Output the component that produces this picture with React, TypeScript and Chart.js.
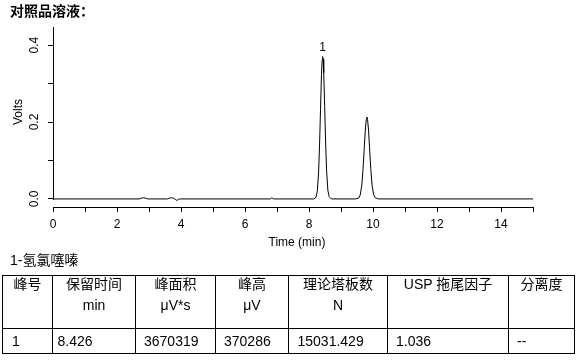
import React, { useEffect, useRef } from 'react';
import { Chart, registerables } from 'chart.js';

Chart.register(...registerables);

// ---------- data ----------
const titleText = '对照品溶液：';
const compoundCaption = '1-氢氯噻嗪';

const times = [
  0, 2.70, 2.76, 2.82, 2.90, 2.96, 3.58, 3.64, 3.70, 3.76, 3.82, 3.87, 3.92, 3.98,
  6.79, 6.84, 6.89,
  8.15, 8.22, 8.26, 8.30, 8.33, 8.36, 8.39, 8.41, 8.426, 8.44, 8.46, 8.49, 8.52, 8.55, 8.59, 8.63, 8.70,
  9.45, 9.55, 9.60, 9.65, 9.69, 9.73, 9.76, 9.79, 9.81, 9.83, 9.86, 9.89, 9.93, 9.97, 10.02, 10.07, 10.17,
  15,
];
const volts = [
  0, 0, 0.002, 0.003, 0.002, 0, 0, 0.002, 0.003, 0.002, -0.001, -0.004, -0.001, 0,
  0, 0.003, 0,
  0, 0.004, 0.020, 0.070, 0.140, 0.233, 0.323, 0.360, 0.370, 0.363, 0.328, 0.240, 0.146, 0.073, 0.022, 0.006, 0,
  0, 0.002, 0.010, 0.036, 0.079, 0.137, 0.179, 0.207, 0.213, 0.207, 0.179, 0.137, 0.079, 0.036, 0.011, 0.003, 0,
  0,
];

const peakLabelTimes = [8.426];
const peakLabelVolts = [0.370];
const peakLabelTexts = ['1'];

const xTickValues = [0, 2, 4, 6, 8, 10, 12, 14];
const yTickValues = [0, 0.2, 0.4];
const yTickLabels = ['0.0', '0.2', '0.4'];
const xTitle = 'Time (min)';
const yTitle = 'Volts';

const tableHeaders = ['峰号', '保留时间', '峰面积', '峰高', '理论塔板数', 'USP 拖尾因子', '分离度'];
const tableUnits = ['', 'min', 'μV*s', 'μV', 'N', '', ''];
const tableRow = ['1', '8.426', '3670319', '370286', '15031.429', '1.036', '--'];

// ---------- layout ----------
const FONT = '"Liberation Sans", Arial, "Noto Sans CJK SC", sans-serif';
const colEdges = [2, 52, 135, 215, 288, 387, 508, 574];
const rowEdges = [275, 328, 353];
const cellPad = [9, 4.5, 8, 8, 8.5, 8, 8];

const overlay = {
  id: 'overlay',
  afterDraw(chart: any) {
    const ctx = chart.ctx;
    const xs = chart.scales.x;
    const ys = chart.scales.y;
    const area = chart.chartArea;
    ctx.save();
    ctx.strokeStyle = '#000';
    ctx.lineWidth = 1;
    ctx.beginPath();
    const ax = Math.round(area.left) + 0.5;
    ctx.moveTo(ax, area.top);
    ctx.lineTo(ax, Math.round(ys.getPixelForValue(0)) + 1);
    ctx.stroke();

    ctx.fillStyle = '#000';
    ctx.font = '12px ' + FONT;
    ctx.textAlign = 'center';
    ctx.textBaseline = 'middle';
    yTickValues.forEach((v, i) => {
      const py = ys.getPixelForValue(v);
      ctx.save();
      ctx.translate(34.5, py);
      ctx.rotate(-Math.PI / 2);
      ctx.fillText(yTickLabels[i], 0, 0);
      ctx.restore();
    });
    ctx.save();
    ctx.translate(18.5, (area.top + area.bottom) / 2 - 5);
    ctx.rotate(-Math.PI / 2);
    ctx.fillText(yTitle, 0, 0);
    ctx.restore();

    ctx.textBaseline = 'alphabetic';
    ctx.fillText(xTitle, (area.left + area.right) / 2 + 4, 246);

    peakLabelTexts.forEach((t, i) => {
      ctx.fillText(t, xs.getPixelForValue(peakLabelTimes[i]), ys.getPixelForValue(peakLabelVolts[i]) - 6);
    });
    ctx.restore();
  },
};

export default function App() {
  const ref = useRef<HTMLCanvasElement>(null);

  useEffect(() => {
    document.body.style.margin = '0';
    const canvas = ref.current;
    if (!canvas) return;
    const chart = new Chart(canvas, {
      type: 'line',
      data: {
        datasets: [
          {
            data: times.map((t, i) => ({ x: t, y: volts[i] })),
            borderColor: '#000',
            borderWidth: 1,
            pointRadius: 0,
            tension: 0,
            fill: false,
          },
        ],
      },
      options: {
        responsive: false,
        animation: false,
        layout: { autoPadding: false, padding: { top: 27, right: 49, left: 0, bottom: 0 } },
        plugins: { legend: { display: false }, tooltip: { enabled: false } },
        scales: {
          x: {
            type: 'linear',
            min: 0,
            max: 15,
            afterFit: (s: any) => { s.height = 48; },
            border: { display: true, color: '#000', width: 1 },
            grid: { drawOnChartArea: false, drawTicks: true, tickLength: 5, color: '#000' },
            ticks: {
              stepSize: 1,
              autoSkip: false,
              maxRotation: 0,
              padding: 5,
              color: '#000',
              font: { family: FONT, size: 12 },
              callback: (v: any) => (xTickValues.includes(Number(v)) ? String(v) : ''),
            },
          },
          y: {
            type: 'linear',
            min: -0.021,
            max: 0.447,
            afterFit: (s: any) => { s.width = 53; },
            border: { display: false },
            grid: { drawOnChartArea: false, drawTicks: true, tickLength: 5, color: '#000' },
            ticks: {
              stepSize: 0.1,
              includeBounds: false,
              autoSkip: false,
              color: 'rgba(0,0,0,0)',
              font: { family: FONT, size: 12 },
              callback: () => '',
            },
          },
        },
      },
      plugins: [overlay],
    });
    return () => chart.destroy();
  }, []);

  const lineStyle = (l: number, t: number, w: number, h: number): React.CSSProperties => ({
    position: 'absolute', left: l, top: t, width: w, height: h, background: '#000',
  });

  return (
    <div style={{ position: 'relative', width: 582, height: 360, background: '#fff', fontFamily: FONT, color: '#000', overflow: 'hidden' }}>
      <canvas ref={ref} width={582} height={255} style={{ position: 'absolute', left: 0, top: 0 }} />
      <div style={{ position: 'absolute', left: 10, top: 0, height: 20, lineHeight: '20px', fontSize: 14, fontWeight: 'bold', fontFamily: '"Noto Sans CJK SC", sans-serif' }}>
        {titleText}
      </div>
      <div style={{ position: 'absolute', left: 10, top: 252, height: 16, lineHeight: '16px', fontSize: 14, whiteSpace: 'nowrap' }}>
        {compoundCaption}
      </div>
      {rowEdges.map((y, i) => (
        <div key={'h' + i} style={lineStyle(colEdges[0], y, colEdges[colEdges.length - 1] - colEdges[0] + 1, 1)} />
      ))}
      {colEdges.map((x, i) => (
        <div key={'v' + i} style={lineStyle(x, rowEdges[0], 1, rowEdges[rowEdges.length - 1] - rowEdges[0] + 1)} />
      ))}
      {tableHeaders.map((h, i) => (
        <div key={'th' + i} style={{ position: 'absolute', left: colEdges[i] + 1, top: rowEdges[0] + 1, width: colEdges[i + 1] - colEdges[i] - 1, fontSize: 14, textAlign: 'center', whiteSpace: 'nowrap' }}>
          <div style={{ height: 16, lineHeight: '16px' }}>{h}</div>
          <div style={{ marginTop: 5, height: 16, lineHeight: '16px' }}>{tableUnits[i]}</div>
        </div>
      ))}
      {tableRow.map((c, i) => (
        <div key={'td' + i} style={{ position: 'absolute', left: colEdges[i] + 1 + cellPad[i], top: rowEdges[1] + 1, height: rowEdges[2] - rowEdges[1] - 1, lineHeight: (rowEdges[2] - rowEdges[1] - 1) + 'px', fontSize: 14, whiteSpace: 'nowrap' }}>
          {c}
        </div>
      ))}
    </div>
  );
}
